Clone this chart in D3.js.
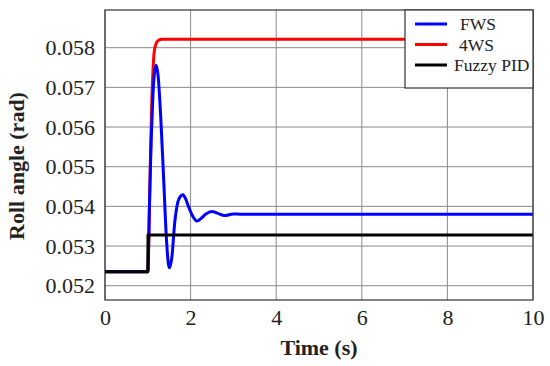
<!DOCTYPE html>
<html>
<head>
<meta charset="utf-8">
<script src="https://cdn.jsdelivr.net/npm/d3@7"></script>
<style>
  body { margin: 0; background: #fff; }
  svg text { font-family: "Liberation Serif", "Times New Roman", serif !important; fill: #222; }
</style>
</head>
<body>
<div id="chart"></div>
<script>
// values
var xTicks = [0, 2, 4, 6, 8, 10];
var yTicks = [0.052, 0.053, 0.054, 0.055, 0.056, 0.057, 0.058];

var fwsT = [0, 1.0, 1.04, 1.08, 1.12, 1.16, 1.195, 1.24, 1.3, 1.37, 1.44, 1.5, 1.56, 1.63, 1.7, 1.76, 1.82, 1.88, 1.95, 2.05, 2.15, 2.25, 2.35, 2.5, 2.62, 2.8, 3.0, 3.2, 10];
var fwsV = [0.05235, 0.05235, 0.0541, 0.0557, 0.0568, 0.0574, 0.05756, 0.0573, 0.0563, 0.0547, 0.0531, 0.05245, 0.0527, 0.0536, 0.0541, 0.05425, 0.05429, 0.0542, 0.0540, 0.05375, 0.05363, 0.0537, 0.0538, 0.05387, 0.05383, 0.05377, 0.05381, 0.0538, 0.0538];

var ws4T = [0, 1.0, 1.03, 1.06, 1.09, 1.12, 1.15, 1.2, 1.26, 1.33, 1.4, 10];
var ws4V = [0.05235, 0.05235, 0.0535, 0.0551, 0.0565, 0.0574, 0.0579, 0.05812, 0.05819, 0.05821, 0.05821, 0.05821];

var pidT = [0, 1.0, 1.005, 10];
var pidV = [0.05235, 0.05235, 0.05328, 0.05328];

var seriesNames = ["FWS", "4WS", "Fuzzy PID"];
var seriesColors = ["#0000ff", "#ff0000", "#000000"];

var width = 550, height = 366;
var margin = {top: 10, right: 17, bottom: 66, left: 105};
var serif = "'Liberation Serif', serif";

var svg = d3.select("#chart").append("svg")
    .attr("width", width)
    .attr("height", height);

var x = d3.scaleLinear()
    .domain([0, 10])
    .range([margin.left, width - margin.right]);

var y = d3.scaleLinear()
    .domain([0.05164, 0.05895])
    .range([height - margin.bottom, margin.top]);

// grid
svg.append("g")
    .selectAll("line")
    .data(xTicks)
    .join("line")
    .attr("x1", d => x(d)).attr("x2", d => x(d))
    .attr("y1", margin.top).attr("y2", height - margin.bottom)
    .attr("stroke", "#8a8a8a").attr("stroke-width", 1);

svg.append("g")
    .selectAll("line")
    .data(yTicks)
    .join("line")
    .attr("x1", margin.left).attr("x2", width - margin.right)
    .attr("y1", d => y(d)).attr("y2", d => y(d))
    .attr("stroke", "#8a8a8a").attr("stroke-width", 1);

// axes
var xAxis = svg.append("g")
    .attr("transform", "translate(0," + (height - margin.bottom) + ")")
    .call(d3.axisBottom(x).tickValues(xTicks).tickSize(0).tickPadding(9).tickFormat(d3.format("d")))
    .attr("font-family", serif)
    .attr("font-size", 22);
xAxis.select(".domain").remove();

var yAxis = svg.append("g")
    .attr("transform", "translate(" + margin.left + ",0)")
    .call(d3.axisLeft(y).tickValues(yTicks).tickSize(0).tickPadding(10).tickFormat(d3.format(".3f")))
    .attr("font-family", serif)
    .attr("font-size", 22);
yAxis.select(".domain").remove();

// lines
function addLine(ts, vs, color, curve) {
    var pts = ts.map(function(t, i) { return [t, vs[i]]; });
    var line = d3.line()
        .x(function(d) { return x(d[0]); })
        .y(function(d) { return y(d[1]); })
        .curve(curve);
    svg.append("path")
        .datum(pts)
        .attr("fill", "none")
        .attr("stroke", color)
        .attr("stroke-width", 3)
        .attr("stroke-linejoin", "round")
        .attr("d", line);
}

addLine(ws4T, ws4V, seriesColors[1], d3.curveMonotoneX);
addLine(fwsT, fwsV, seriesColors[0], d3.curveMonotoneX);
addLine(pidT, pidV, seriesColors[2], d3.curveLinear);

// frame
svg.append("rect")
    .attr("x", margin.left).attr("y", margin.top)
    .attr("width", width - margin.left - margin.right)
    .attr("height", height - margin.top - margin.bottom)
    .attr("fill", "none").attr("stroke", "#333").attr("stroke-width", 1.2);

// legend
var legend = svg.append("g");
legend.append("rect")
    .attr("x", 405).attr("y", margin.top)
    .attr("width", width - margin.right - 405).attr("height", 78)
    .attr("fill", "#fff").attr("stroke", "#333").attr("stroke-width", 1.2);

var rows = legend.selectAll("g.row")
    .data(seriesNames)
    .join("g")
    .attr("class", "row")
    .attr("transform", function(d, i) { return "translate(0," + (24 + i * 20.5) + ")"; });

rows.append("line")
    .attr("x1", 415).attr("x2", 447)
    .attr("stroke", function(d, i) { return seriesColors[i]; })
    .attr("stroke-width", 3);

rows.append("text")
    .attr("x", function(d, i) { return [460, 459, 454][i]; })
    .attr("dy", "0.35em")
    .style("font-size", "17.5px")
    .text(function(d) { return d; });

// axis titles
svg.append("text")
    .attr("x", (margin.left + width - margin.right) / 2)
    .attr("y", 355)
    .attr("text-anchor", "middle")
    .style("font-size", "22px")
    .style("font-weight", "bold")
    .text("Time (s)");

svg.append("text")
    .attr("transform", "translate(24,166) rotate(-90)")
    .attr("text-anchor", "middle")
    .style("font-size", "22px")
    .style("font-weight", "bold")
    .text("Roll angle (rad)");
</script>
</body>
</html>
